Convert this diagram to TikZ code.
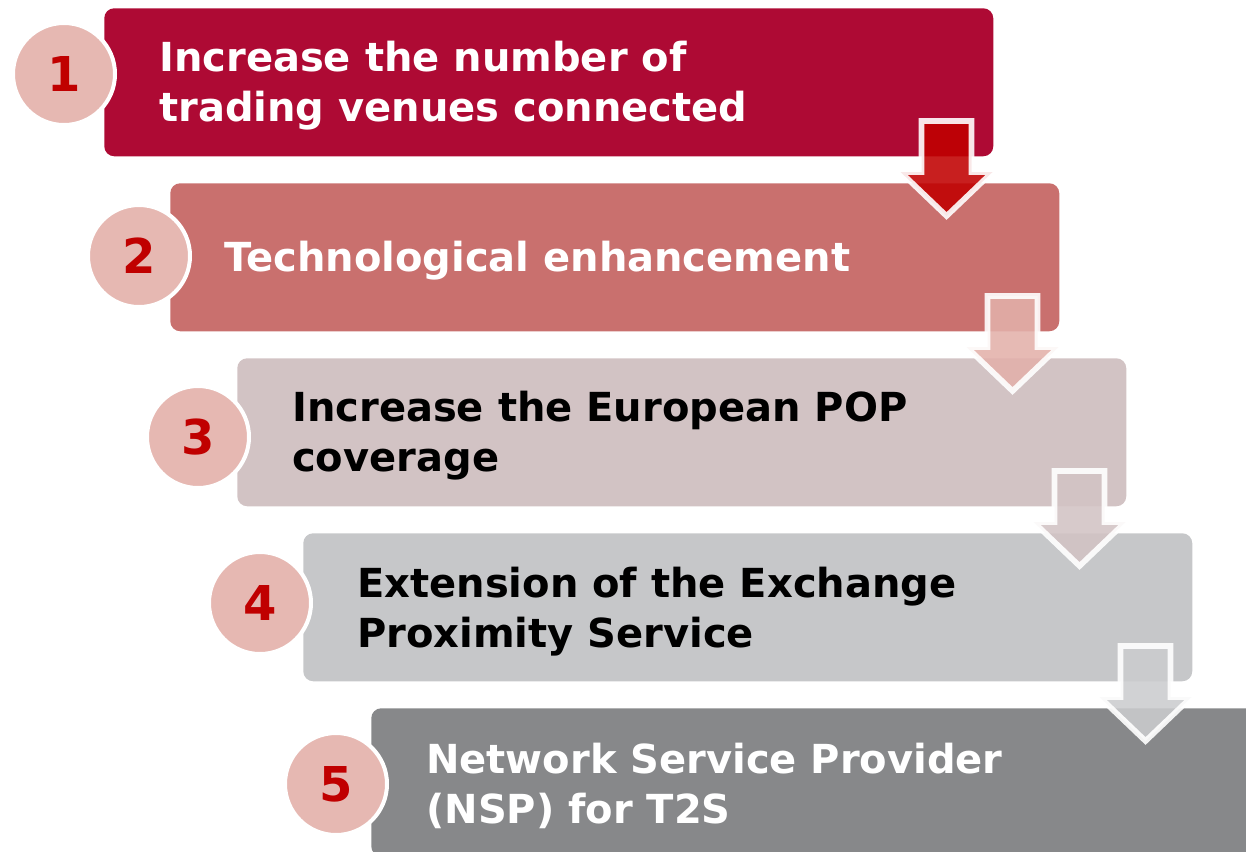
\documentclass[tikz,border=0pt]{standalone}
\usepackage{fontspec}
\setmainfont{DejaVu Sans}
\usetikzlibrary{calc}
\definecolor{boxA}{HTML}{AE0A34}
\definecolor{boxB}{HTML}{C9706E}
\definecolor{boxC}{HTML}{D2C3C4}
\definecolor{boxD}{HTML}{C6C7C9}
\definecolor{boxE}{HTML}{87888A}
\definecolor{circfill}{HTML}{E6B8B2}
\definecolor{numred}{HTML}{C00000}
\definecolor{arrA}{HTML}{C00000}
\definecolor{arrB}{HTML}{E3B0AA}
\definecolor{arrC}{HTML}{D2C3C4}
\definecolor{arrD}{HTML}{CBCCCE}
\newcommand\flowarrow[2]{\path[flow, fill=#2] ($(#1.north east)+(-47,208)$) -- ++(-46,-44) -- ++(21,0) -- ++(0,-51) -- ++(50,0) -- ++(0,51) -- ++(21,0) -- cycle;}
\begin{document}
\begin{tikzpicture}[x=0.75pt,y=-0.75pt,
  stepbox/.style={rectangle, rounded corners=7.5pt, minimum width=666.75pt, minimum height=111pt, anchor=north west, inner sep=0pt},
  numcircle/.style={circle, fill=circfill, draw=white, line width=3pt, minimum size=76.5pt, inner sep=0pt, text=numred, font=\fontsize{36}{36}\selectfont\bfseries},
  steptext/.style={anchor=west, align=left, inner sep=0pt, font=\fontsize{30}{37.5}\selectfont\bfseries},
  flow/.style={draw=white, draw opacity=0.9, line width=4.2pt, line join=miter, fill opacity=0.88}
]
\useasboundingbox (0,0) rectangle (1246,851);
\clip (0,0) rectangle (1246,851);

\node[stepbox, fill=boxA] (b1) at (104,8) {};
\node[stepbox, fill=boxB] (b2) at (170,183) {};
\node[stepbox, fill=boxC] (b3) at (237,358) {};
\node[stepbox, fill=boxD] (b4) at (303,533) {};
\node[stepbox, fill=boxE] (b5) at (371,708) {};

\node[numcircle] (c1) at (64,74) {1};
\node[numcircle] (c2) at (139,256) {2};
\node[numcircle] (c3) at (198,437) {3};
\node[numcircle] (c4) at (260,603) {4};
\node[numcircle] (c5) at (336,784) {5};

\node[steptext, text=white] (t1) at ($(b1.west)+(55,3)$) {Increase the number of\\trading venues connected};
\node[steptext, text=white] (t2) at ($(b2.west)+(54,3)$) {Technological enhancement};
\node[steptext, text=black] (t3) at ($(b3.west)+(55,3)$) {Increase the European POP\\coverage};
\node[steptext, text=black] (t4) at ($(b4.west)+(54,4)$) {Extension of the Exchange\\Proximity Service};
\node[steptext, text=white] (t5) at ($(b5.west)+(55,4)$) {Network Service Provider\\(NSP) for T2S};

\flowarrow{b1}{arrA}
\flowarrow{b2}{arrB}
\flowarrow{b3}{arrC}
\flowarrow{b4}{arrD}
\end{tikzpicture}
\end{document}
